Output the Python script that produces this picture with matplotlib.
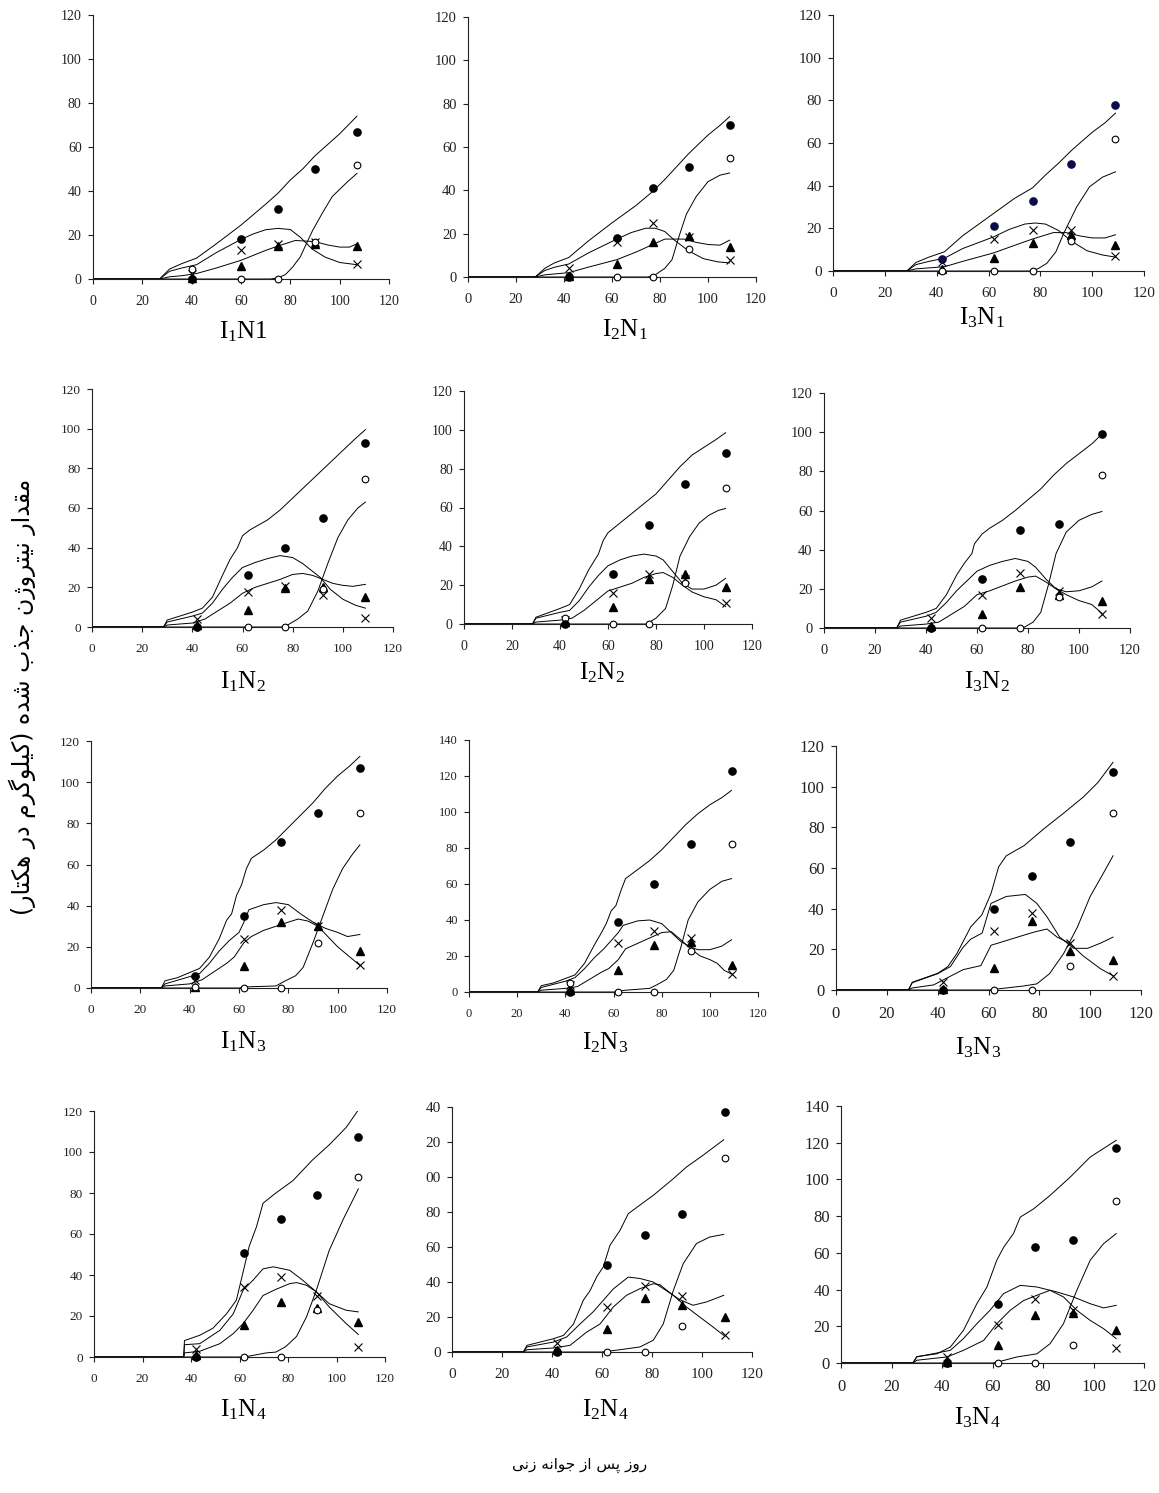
import matplotlib
matplotlib.use("Agg")
import matplotlib.pyplot as plt

W, H = 1159, 1493
plt.rcParams['mathtext.fontset'] = 'custom'
plt.rcParams['mathtext.rm'] = 'Liberation Serif'
plt.rcParams['mathtext.it'] = 'Liberation Serif:italic'
plt.rcParams['font.family'] = ['Liberation Serif', 'DejaVu Sans']

# ---------------- data (days after emergence, N uptake kg/ha) ----------------
# observed: total (filled circle), grain (open circle), leaf (x), stem (triangle)
# simulated curves as (day, value) pairs
I1N1_days = [40, 60, 75, 90, 107]
I1N1_total = [0, 18, 32, 50, 67]
I1N1_grain = [4.5, 0, 0, 17, 52]
I1N1_leaf = [2.5, 13, 16, 17, 7]
I1N1_stem = [0.5, 6, 15, 16, 15]
I1N1_sim_total = [(0, 0), (27, 0), (31, 4.5), (36, 7), (42, 9.5), (50, 16), (60, 24.5), (70, 34), (75, 39), (80, 45), (85, 50), (90, 56), (95, 61), (100, 66), (107, 74)]
I1N1_sim_leaf = [(0, 0), (27, 0), (31, 3.5), (36, 5), (42, 6.5), (50, 12), (60, 18), (65, 20.5), (70, 22.4), (75, 23), (80, 22.5), (84, 19), (89, 13.5), (94, 10), (100, 7.5), (107, 6.5)]
I1N1_sim_stem = [(0, 0), (27, 0), (31, 1), (36, 1.5), (42, 2.5), (50, 5), (60, 8.5), (70, 13), (75, 15), (82, 17.5), (90, 17), (95, 15.5), (100, 14.5), (104, 14.5), (107, 16)]
I1N1_sim_grain = [(0, 0), (72, 0), (75, 0.5), (78, 2), (81, 5.5), (84, 10), (89, 22), (93, 30), (97, 37.5), (103, 44), (107, 48)]

I2N1_days = [42, 62, 77, 92, 109]
I2N1_total = [0, 18, 41, 51, 70]
I2N1_grain = [0.5, 0, 0, 13, 55]
I2N1_leaf = [4, 16, 25, 18.5, 8]
I2N1_stem = [0.5, 6, 16, 19, 14]
I2N1_sim_total = [(0, 0), (28, 0), (32, 4), (36, 6.5), (42, 9), (50, 16.5), (60, 25), (70, 33), (77, 39.5), (82, 45), (87, 51), (92, 57), (100, 65.5), (105, 70), (109, 74)]
I2N1_sim_leaf = [(0, 0), (28, 0), (32, 3), (36, 4.5), (42, 6), (50, 11), (62, 17.5), (68, 20.5), (74, 22.5), (78, 22.5), (82, 21), (86, 17), (92, 12), (98, 8.5), (104, 7), (109, 6.5)]
I2N1_sim_stem = [(0, 0), (28, 0), (32, 1), (42, 2), (50, 4.5), (62, 8), (70, 11.5), (77, 15), (82, 17.5), (90, 17.5), (95, 16), (100, 15), (105, 14.7), (109, 17)]
I2N1_sim_grain = [(0, 0), (75, 0), (78, 1), (82, 4), (85, 8), (88, 19), (91, 29), (95, 37), (100, 44), (105, 47), (109, 48)]

I3N1_days = [42, 62, 77, 92, 109]
I3N1_total = [5.5, 21, 33, 50, 78]
I3N1_grain = [0, 0, 0, 14, 62]
I3N1_leaf = [4, 15, 19, 19, 7]
I3N1_stem = [1, 6, 13, 17, 12]
I3N1_sim_total = [(0, 0), (28.5, 0), (32, 4), (37, 6.5), (43, 9), (50, 16.5), (62, 27), (70, 34), (77, 39), (82, 45), (87, 50.5), (92, 56.5), (100, 65), (105, 69.5), (109, 74)]
I3N1_sim_leaf = [(0, 0), (28.5, 0), (32, 3), (37, 4.5), (43, 6), (50, 10.5), (62, 16), (68, 19.5), (74, 22), (78, 22.5), (82, 22), (87, 19), (92, 14), (98, 9.5), (104, 7.5), (109, 6.5)]
I3N1_sim_stem = [(0, 0), (28.5, 0), (32, 1), (43, 2), (50, 4.5), (62, 8.5), (70, 12), (77, 15), (85, 18), (90, 18), (95, 16.5), (100, 15.5), (105, 15.5), (109, 17)]
I3N1_sim_grain = [(0, 0), (76, 0), (79, 1), (82.5, 3.6), (86, 9), (89, 17.6), (94, 30), (99, 39.5), (104, 44), (109, 46.5)]

I1N2_days = [42, 62, 77, 92, 109]
I1N2_total = [0, 26, 40, 55, 93]
I1N2_grain = [0, 0, 0, 19, 74.5]
I1N2_leaf = [4, 17.5, 20.5, 16, 4.5]
I1N2_stem = [1, 8.5, 19.5, 20, 15]
I1N2_sim_total = [(0, 0), (28.5, 0), (30, 3.5), (35, 5.5), (40, 7.5), (44, 9.5), (48, 15), (52, 26), (55, 34), (58, 40), (60, 46), (63, 49), (70, 54), (75, 59), (80, 65), (85, 71), (90, 77), (95, 83), (100, 89), (105, 95), (109, 99.5)]
I1N2_sim_leaf = [(0, 0), (28.5, 0), (30, 2.5), (35, 4), (40, 5.5), (44, 7), (48, 12), (52, 19), (56, 25), (60, 30), (65, 32.5), (70, 34.5), (75, 36), (80, 35), (84, 32), (88, 28), (91, 25), (95, 19), (100, 14), (105, 11), (109, 9.5)]
I1N2_sim_stem = [(0, 0), (28.5, 0), (30, 1), (40, 2), (45, 4), (50, 8), (55, 12), (60, 17), (65, 20), (70, 22), (75, 24), (80, 26.5), (84, 27), (88, 26), (92, 24), (96, 22), (100, 21), (104, 20.5), (109, 21.5)]
I1N2_sim_grain = [(0, 0), (76, 0), (78, 1), (82, 4), (86, 8), (90, 18), (94, 32), (98, 45), (102, 54), (106, 60), (109, 63)]

I2N2_days = [42, 62, 77, 92, 109]
I2N2_total = [0, 26, 51, 72, 88]
I2N2_grain = [3, 0, 0, 21, 70]
I2N2_leaf = [2, 16, 26, 23, 11]
I2N2_stem = [1, 9, 23, 26, 19]
I2N2_sim_total = [(0, 0), (28.5, 0), (30, 3.5), (40, 8), (44, 10), (48, 18), (52, 28), (56, 36), (58, 43), (60, 47), (65, 52), (70, 57), (75, 62), (80, 67), (85, 74), (90, 81), (95, 87), (100, 91), (105, 95), (109, 98.5)]
I2N2_sim_leaf = [(0, 0), (28.5, 0), (30, 3), (40, 6), (44, 7), (48, 12), (52, 19), (56, 25), (60, 30), (65, 33), (70, 35), (75, 36), (80, 35), (83, 33), (87, 27), (91, 21), (95, 18), (100, 18), (105, 20), (109, 23.5)]
I2N2_sim_stem = [(0, 0), (28.5, 0), (30, 1), (40, 2), (45, 3), (50, 7), (55, 12), (60, 17), (65, 19), (70, 21), (75, 24), (80, 26), (83, 26.5), (87, 24), (91, 20), (95, 16.5), (100, 14), (105, 12.5), (109, 9)]
I2N2_sim_grain = [(0, 0), (76, 0), (80, 3), (84, 8), (87, 20), (90, 35), (94, 45), (98, 52), (102, 56), (106, 58.5), (109, 59.5)]

I3N2_days = [42, 62, 77, 92, 109]
I3N2_total = [0, 25, 50, 53, 99]
I3N2_grain = [0, 0, 0, 16, 78]
I3N2_leaf = [5, 17, 28, 19, 7]
I3N2_stem = [1, 7, 21, 17, 14]
I3N2_sim_total = [(0, 0), (28.5, 0), (30, 4), (40, 8), (44, 10), (48, 17), (52, 27), (55, 33), (58, 38), (59, 43), (62, 48), (65, 51), (70, 55), (75, 60), (80, 65.5), (85, 71), (90, 78), (95, 84), (100, 89), (105, 94), (109, 99)]
I3N2_sim_leaf = [(0, 0), (28.5, 0), (30, 3), (40, 6), (44, 8), (48, 13), (52, 19), (56, 24), (60, 29), (65, 32), (70, 34), (75, 35.5), (80, 34), (83, 31), (87, 25), (91, 20), (95, 18.5), (100, 19), (105, 21), (109, 24)]
I3N2_sim_stem = [(0, 0), (28.5, 0), (30, 1), (40, 2), (45, 3), (50, 7), (55, 11), (60, 17), (65, 19), (70, 21.5), (75, 24), (80, 26), (83, 26.5), (87, 23.5), (91, 20), (95, 17), (100, 14), (105, 12), (109, 7.5)]
I3N2_sim_grain = [(0, 0), (78, 0), (82, 3), (85, 8), (88, 22), (91, 38), (95, 49), (100, 55), (105, 58), (109, 59.5)]

I1N3_days = [42, 62, 77, 92, 109]
I1N3_total = [6, 35, 71, 85, 107]
I1N3_grain = [0.5, 0, 0, 22, 85]
I1N3_leaf = [4, 24, 38, 30, 11]
I1N3_stem = [0.5, 10.5, 32, 30, 18]
I1N3_sim_total = [(0, 0), (28.5, 0), (30, 3.5), (35, 5), (40, 7.5), (44, 9.5), (48, 15), (52, 24), (55, 33), (57, 36), (59, 45), (61, 50), (63, 58), (65, 63), (70, 67), (75, 72), (80, 78), (85, 84), (90, 90), (95, 97), (100, 103), (105, 108), (109, 112.5)]
I1N3_sim_leaf = [(0, 0), (28.5, 0), (30, 2), (40, 5.5), (44, 7), (48, 12), (52, 18), (56, 23), (60, 27), (62, 32), (64, 38), (70, 40.5), (75, 41.5), (80, 40.5), (85, 36), (90, 32), (95, 29), (100, 27), (104, 25), (109, 26)]
I1N3_sim_stem = [(0, 0), (28.5, 0), (30, 1), (40, 2), (45, 4), (50, 8), (55, 12), (58, 15), (62, 22), (65, 25), (70, 28), (75, 30), (80, 32), (84, 33.5), (88, 32.5), (92, 30), (96, 25), (100, 20), (105, 15), (109, 11)]
I1N3_sim_grain = [(0, 0), (60, 0), (62, 0.5), (75, 1), (78, 3), (83, 6), (86, 10), (90, 22), (94, 35), (98, 48), (102, 58), (106, 65), (109, 69.5)]

I2N3_days = [42, 62, 77, 92, 109]
I2N3_total = [0, 39, 60, 82, 123]
I2N3_grain = [5, 0, 0, 23, 82]
I2N3_leaf = [4, 27, 34, 30, 10]
I2N3_stem = [1, 12, 26, 28, 15]
I2N3_sim_total = [(0, 0), (28.5, 0), (30, 3.5), (35, 5), (40, 7.5), (44, 9.5), (48, 16), (52, 26), (55, 33), (57, 38), (59, 45), (61, 48), (63, 56), (65, 63), (70, 68), (75, 73), (80, 79), (85, 86), (90, 93), (95, 99), (100, 104), (105, 108), (109, 112)]
I2N3_sim_leaf = [(0, 0), (28.5, 0), (30, 2.5), (40, 6), (44, 8), (48, 13), (52, 19), (56, 24), (60, 30), (62, 33), (64, 37), (70, 39.5), (75, 40), (80, 38), (84, 33), (88, 28), (92, 25), (95, 23.5), (100, 23.5), (105, 25.5), (109, 29)]
I2N3_sim_stem = [(0, 0), (28.5, 0), (30, 1), (40, 2), (45, 3), (50, 7), (55, 11), (58, 13), (62, 18), (65, 24), (70, 27), (75, 30), (80, 33), (84, 33.5), (88, 29), (92, 24), (96, 20), (100, 18), (103, 16), (106, 12), (109, 10)]
I2N3_sim_grain = [(0, 0), (60, 0), (65, 1), (75, 2), (78, 4), (82, 7), (85, 12), (88, 25), (91, 40), (95, 50), (100, 57), (105, 61.5), (109, 63)]

I3N3_days = [42, 62, 77, 92, 109]
I3N3_total = [0, 40, 56, 73, 107]
I3N3_grain = [0, 0, 0, 12, 87]
I3N3_leaf = [4, 29, 38, 23, 7]
I3N3_stem = [0.5, 11, 34, 19, 15]
I3N3_sim_total = [(0, 0), (28.5, 0), (30, 3.8), (40, 8.2), (44, 11.5), (47.6, 18), (53, 31), (57.4, 37), (61, 47.5), (64, 60.6), (67, 66), (74, 71), (82, 79.5), (89.6, 87), (97.4, 95), (103, 102), (109, 112)]
I3N3_sim_leaf = [(0, 0), (28.5, 0), (30, 3.6), (40, 8), (45, 11.5), (50, 21), (53, 25), (57.5, 28), (61, 42.6), (67, 46), (74.5, 47), (79, 42.6), (83, 36), (88, 26), (93.5, 20.5), (99, 20.5), (104, 23), (109, 26)]
I3N3_sim_stem = [(0, 0), (28.5, 0), (30, 1), (38.4, 2.5), (50, 10), (57, 12), (61, 22), (74, 27), (78, 28.5), (83, 30), (87, 26), (92, 23), (97, 17), (104, 10.5), (109, 7)]
I3N3_sim_grain = [(0, 0), (60, 0), (74, 2), (79, 3), (84, 8), (89.6, 18), (95, 31), (100, 46), (105, 57), (109, 66)]

I1N4_days = [42, 62, 77, 92, 109]
I1N4_total = [0, 50.5, 67.5, 79, 107.5]
I1N4_grain = [0, 0, 0, 23, 88]
I1N4_leaf = [4, 34, 39, 30, 5]
I1N4_stem = [1, 15.5, 27, 24, 17]
I1N4_sim_total = [(0, 0), (37, 0), (37.3, 8), (43.6, 10.6), (49, 14), (54.6, 21), (58.7, 27.7), (61.5, 41.5), (64, 54), (67, 63.5), (69.7, 75), (75, 80), (82, 86), (90, 96), (97, 103.5), (104, 112), (109, 120.5)]
I1N4_sim_leaf = [(0, 0), (37, 0), (37.3, 6), (43.6, 6.5), (51.9, 13), (57.4, 21), (61.5, 32.6), (65.6, 37.5), (69.7, 43), (73.9, 44), (80.7, 42.3), (86, 37.5), (91.7, 31.8), (97, 26), (104, 22.8), (109, 22)]
I1N4_sim_stem = [(0, 0), (37, 0), (37.3, 2), (43.6, 2.8), (51.9, 6.5), (57.4, 11.4), (61.5, 16.3), (65.6, 22.8), (69.7, 30), (75, 33), (80.7, 35.8), (83.5, 36.3), (87.6, 35), (91.7, 31.8), (97, 24.4), (104, 16.3), (109, 11)]
I1N4_sim_grain = [(0, 0), (62, 0), (71, 2), (75, 2.4), (79, 5), (83.5, 10), (87.6, 19.5), (91.7, 32.6), (97, 52), (102.7, 67), (109, 82)]

I2N4_days = [42, 62, 77, 92, 109]
I2N4_total = [0, 50, 67, 79, 137]
I2N4_grain = [0.5, 0, 0, 15, 111]
I2N4_leaf = [5, 26, 38, 32, 10]
I2N4_stem = [1, 13, 31, 27, 20]
I2N4_sim_total = [(0, 0), (28.5, 0), (30, 3.8), (40.6, 7.6), (44.6, 9.5), (48.6, 16), (52.5, 29.5), (55.2, 35), (57.9, 43), (60.5, 48.6), (63.2, 61), (67.2, 69.5), (70.5, 79), (75.2, 84), (80.5, 89.5), (88.5, 99), (93.8, 105.7), (100.4, 112.4), (108.7, 121.3)]
I2N4_sim_leaf = [(0, 0), (28.5, 0), (30, 2.9), (40.6, 5.7), (45.9, 8.6), (51.2, 16), (56.5, 23), (60.5, 29.5), (64.5, 36), (70.5, 42.8), (75.2, 42), (80.5, 40), (85.8, 35), (91, 30), (96.4, 26.7), (101.8, 28.6), (108.7, 32.4)]
I2N4_sim_stem = [(0, 0), (28.5, 0), (30, 1.3), (40.6, 2.3), (47.2, 3.8), (53.9, 11.4), (59.2, 16), (64.5, 25.7), (69.8, 32.4), (75.2, 36.2), (80.5, 39), (83.1, 38.5), (88.5, 32.4), (93.8, 25.7), (99.1, 20), (104.4, 14.3), (108.7, 9.5)]
I2N4_sim_grain = [(0, 0), (60, 0), (67.2, 1.3), (75.2, 2.9), (80.5, 6.7), (84.5, 16), (88.5, 35), (92.5, 50.5), (97.8, 62), (103.1, 65.7), (108.7, 67.2)]

I3N4_days = [42, 62, 77, 92, 109]
I3N4_total = [0, 32, 63, 67, 117]
I3N4_grain = [0, 0, 0, 10, 88]
I3N4_leaf = [3, 20.5, 35, 29, 8]
I3N4_stem = [0.5, 10, 26, 27, 18]
I3N4_sim_total = [(0, 0), (28.5, 0), (30, 3.5), (38, 5), (43.3, 8.7), (48.5, 17.8), (53.8, 32.3), (57.8, 41.4), (61.7, 56), (64.4, 63), (68.3, 70.5), (71, 79.5), (76.3, 84), (82.8, 91.3), (90.8, 101.3), (98.7, 112.2), (109, 121.3)]
I3N4_sim_leaf = [(0, 0), (28.5, 0), (30, 3.3), (43.3, 6.9), (48.5, 13.3), (53.8, 21.4), (59, 28.7), (64.4, 37.8), (71, 42.3), (77.6, 41.4), (85.5, 38.7), (92, 36), (98.7, 32.3), (104, 30), (109, 31.4)]
I3N4_sim_stem = [(0, 0), (28.5, 0), (30, 1.5), (42, 3.3), (48.5, 6.9), (56.5, 12.3), (61.7, 21.4), (67, 28.7), (72.3, 34), (77.6, 36.9), (82.8, 39.6), (88.1, 36), (93.4, 28.7), (98.7, 23.2), (104, 18.7), (109, 13.3)]
I3N4_sim_grain = [(0, 0), (60, 0), (61.7, 0.4), (69.7, 3.3), (77.6, 5), (82.8, 10.5), (88.1, 21.4), (93.4, 39.6), (98.7, 56), (104, 65), (109, 70.5)]

PANELS = ['I1N1', 'I2N1', 'I3N1', 'I1N2', 'I2N2', 'I3N2',
          'I1N3', 'I2N3', 'I3N3', 'I1N4', 'I2N4', 'I3N4']
TITLES = [r'$\mathregular{I_1N1}$', r'$\mathregular{I_2N_1}$', r'$\mathregular{I_3N_1}$',
          r'$\mathregular{I_1N_2}$', r'$\mathregular{I_2N_2}$', r'$\mathregular{I_3N_2}$',
          r'$\mathregular{I_1N_3}$', r'$\mathregular{I_2N_3}$', r'$\mathregular{I_3N_3}$',
          r'$\mathregular{I_1N_4}$', r'$\mathregular{I_2N_4}$', r'$\mathregular{I_3N_4}$']
YMAX = [120, 120, 120, 120, 120, 120, 120, 140, 120, 120, 140, 140]
# the I2N4 panel's top labels are cut on the left in the original
YTICKLABELS_I2N4 = ['0', '20', '40', '60', '80', '00', '20', '40']
XTICKS = [0, 20, 40, 60, 80, 100, 120]

YLABEL = 'مقدار نیتروژن جذب شده (کیلوگرم در هکتار)'
XLABEL = 'روز پس از جوانه زنی'

# ---------------- layout (pixels: left, top, right, bottom) ----------------
BOXES = [(93, 15, 389, 279), (468, 17, 756, 277), (833, 15, 1144, 271),
         (92, 389, 393, 627), (464, 391, 752, 624), (824, 393, 1130, 628),
         (91, 741, 387, 988), (469, 740, 758, 992), (836, 746, 1141, 990),
         (94, 1111, 385, 1357), (452, 1107, 752, 1352), (841, 1106, 1144, 1363)]
TITLE_POS = [(243, 332), (625, 330), (982, 318),
             (243, 682), (602, 673), (987, 682),
             (243, 1042), (605, 1043), (978, 1048),
             (243, 1410), (605, 1410), (977, 1418)]
TICK_FS = [10, 10.5, 11, 9.5, 10, 10.5, 9.5, 9, 12, 9.5, 11, 12]


# ---------------- minimal Persian shaping for matplotlib ----------------
FORMS = {
    'ا': ('\uFE8D', '\uFE8E', None, None),
    'ب': ('\uFE8F', '\uFE90', '\uFE91', '\uFE92'),
    'پ': ('\uFB56', '\uFB57', '\uFB58', '\uFB59'),
    'ت': ('\uFE95', '\uFE96', '\uFE97', '\uFE98'),
    'ج': ('\uFE9D', '\uFE9E', '\uFE9F', '\uFEA0'),
    'د': ('\uFEA9', '\uFEAA', None, None),
    'ذ': ('\uFEAB', '\uFEAC', None, None),
    'ر': ('\uFEAD', '\uFEAE', None, None),
    'ز': ('\uFEAF', '\uFEB0', None, None),
    'ژ': ('\uFB8A', '\uFB8B', None, None),
    'س': ('\uFEB1', '\uFEB2', '\uFEB3', '\uFEB4'),
    'ش': ('\uFEB5', '\uFEB6', '\uFEB7', '\uFEB8'),
    'ق': ('\uFED5', '\uFED6', '\uFED7', '\uFED8'),
    'ک': ('\uFB8E', '\uFB8F', '\uFB90', '\uFB91'),
    'گ': ('\uFB92', '\uFB93', '\uFB94', '\uFB95'),
    'ل': ('\uFEDD', '\uFEDE', '\uFEDF', '\uFEE0'),
    'م': ('\uFEE1', '\uFEE2', '\uFEE3', '\uFEE4'),
    'ن': ('\uFEE5', '\uFEE6', '\uFEE7', '\uFEE8'),
    'و': ('\uFEED', '\uFEEE', None, None),
    'ه': ('\uFEE9', '\uFEEA', '\uFEEB', '\uFEEC'),
    'ی': ('\uFBFC', '\uFBFD', '\uFBFE', '\uFBFF'),
}


def shape_rtl(text):
    out = []
    n = len(text)
    for i, c in enumerate(text):
        if c not in FORMS:
            out.append(c)
            continue
        prev = text[i - 1] if i > 0 else None
        nxt = text[i + 1] if i < n - 1 else None
        jp = prev in FORMS and FORMS[prev][2] is not None
        jn = FORMS[c][2] is not None and nxt in FORMS
        iso, fin, ini, med = FORMS[c]
        if jp and jn:
            out.append(med)
        elif jp:
            out.append(fin)
        elif jn:
            out.append(ini)
        else:
            out.append(iso)
    vis = ''.join(reversed(out))
    return vis.translate(str.maketrans('()', ')('))


fig = plt.figure(figsize=(W / 100, H / 100), dpi=100)
fig.patch.set_facecolor('white')

g = globals()
for k, name in enumerate(PANELS):
    l, t, r, b = BOXES[k]
    ax = fig.add_axes([l / W, 1 - b / H, (r - l) / W, (b - t) / H])
    for key in ['sim_total', 'sim_leaf', 'sim_stem', 'sim_grain']:
        pts = g[f'{name}_{key}']
        ax.plot([p[0] for p in pts], [p[1] for p in pts], color='black', lw=0.7,
                solid_joinstyle='round', zorder=2)
    days = g[f'{name}_days']
    fill_col = '#0c0c4a' if name == 'I3N1' else 'black'
    common = dict(linestyle='none', clip_on=False, zorder=4)
    ax.plot(days, g[f'{name}_stem'], marker='^', ms=5.4, color='black', **common)
    ax.plot(days, g[f'{name}_leaf'], marker='x', ms=5.8, mew=0.8, color='black', **common)
    ax.plot(days, g[f'{name}_grain'], marker='o', ms=4.8, mfc='white', mec='black', mew=0.8, **common)
    ax.plot(days, g[f'{name}_total'], marker='o', ms=5.2, color=fill_col, **common)

    ymax = YMAX[k]
    ax.set_xlim(0, 120)
    ax.set_ylim(0, ymax)
    ax.set_xticks(XTICKS)
    yt = list(range(0, ymax + 1, 20))
    ax.set_yticks(yt)
    if name == 'I2N4':
        ax.set_yticklabels(YTICKLABELS_I2N4)
    for s in ['top', 'right']:
        ax.spines[s].set_visible(False)
    for s in ['left', 'bottom']:
        ax.spines[s].set_linewidth(0.8)
        ax.spines[s].set_color('#222222')
    ax.tick_params(direction='out', length=3.6, width=0.8, colors='#222222',
                   labelsize=TICK_FS[k])
    ax.tick_params(axis='x', pad=8)
    ax.tick_params(axis='y', pad=4.5)
    for lab in ax.get_xticklabels() + ax.get_yticklabels():
        lab.set_fontfamily('Liberation Serif')
        lab.set_color('#222222')
    ax.patch.set_alpha(0)

    cx, cy = TITLE_POS[k]
    fig.text(cx / W, 1 - cy / H, TITLES[k], ha='center', va='center',
             fontsize=18, fontfamily='Liberation Serif', color='black')

fig.text(22 / W, 1 - 697 / H, shape_rtl(YLABEL), rotation=90, ha='center', va='center',
         fontsize=17, family=['DejaVu Sans'], color='black')
fig.text(580 / W, 1 - 1465 / H, shape_rtl(XLABEL), ha='center', va='center',
         fontsize=11, family=['DejaVu Sans'], color='black')

fig.savefig('out.png', dpi=100, facecolor='white')
